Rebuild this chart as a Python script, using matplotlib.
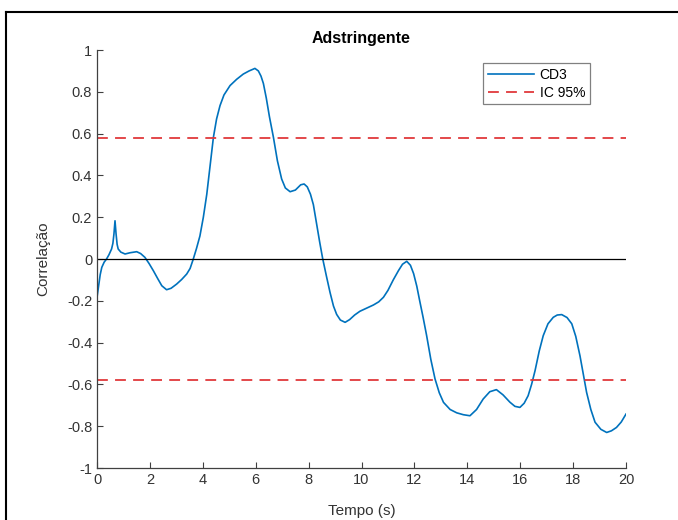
import numpy as np
import matplotlib.pyplot as plt
from matplotlib.lines import Line2D

plt.rcParams['font.family'] = ['Liberation Sans', 'DejaVu Sans']

# cross-correlation curve, CD3
tempo = [0.0, 0.06, 0.12, 0.18, 0.27, 0.36, 0.45, 0.55, 0.6, 0.64, 0.68, 0.72,
         0.76, 0.8, 0.9, 1.06, 1.25, 1.5, 1.65, 1.81, 1.97, 2.13, 2.3, 2.45,
         2.63, 2.8, 3.01, 3.2, 3.39, 3.52, 3.64, 3.76, 3.89, 4.02, 4.15, 4.28,
         4.4, 4.52, 4.65, 4.8, 5.03, 5.28, 5.53, 5.75, 5.97, 6.1, 6.2, 6.29,
         6.4, 6.52, 6.67, 6.82, 6.98, 7.12, 7.3, 7.5, 7.7, 7.83, 7.95, 8.07,
         8.18, 8.3, 8.42, 8.53, 8.67, 8.81, 8.94, 9.06, 9.2, 9.38, 9.55, 9.74,
         9.94, 10.2, 10.45, 10.65, 10.83, 11.0, 11.2, 11.4, 11.55, 11.71, 11.85,
         11.97, 12.09, 12.2, 12.33, 12.46, 12.62, 12.78, 12.94, 13.1, 13.35,
         13.6, 13.85, 14.1, 14.35, 14.6, 14.85, 15.1, 15.35, 15.61, 15.8, 15.99,
         16.15, 16.3, 16.43, 16.56, 16.72, 16.87, 17.05, 17.25, 17.4, 17.57,
         17.77, 17.95, 18.1, 18.26, 18.39, 18.51, 18.67, 18.83, 19.05, 19.27,
         19.45, 19.64, 19.82, 20.0]
cd3 = [-0.183, -0.13, -0.075, -0.04, -0.015, 0.0, 0.02, 0.048, 0.075, 0.12,
       0.183, 0.12, 0.07, 0.048, 0.033, 0.024, 0.03, 0.035, 0.026, 0.008,
       -0.022, -0.056, -0.095, -0.128, -0.147, -0.14, -0.12, -0.098, -0.072,
       -0.045, 0.0, 0.05, 0.11, 0.2, 0.31, 0.45, 0.582, 0.67, 0.734, 0.785,
       0.83, 0.86, 0.885, 0.9, 0.912, 0.9, 0.875, 0.84, 0.77, 0.68, 0.582,
       0.47, 0.383, 0.34, 0.322, 0.33, 0.355, 0.359, 0.345, 0.31, 0.26, 0.17,
       0.08, 0.003, -0.08, -0.16, -0.225, -0.265, -0.292, -0.303, -0.29,
       -0.268, -0.25, -0.235, -0.22, -0.205, -0.183, -0.15, -0.1, -0.055,
       -0.025, -0.011, -0.03, -0.07, -0.13, -0.2, -0.28, -0.365, -0.48, -0.574,
       -0.64, -0.686, -0.72, -0.736, -0.745, -0.75, -0.72, -0.67, -0.635,
       -0.625, -0.65, -0.685, -0.705, -0.71, -0.69, -0.654, -0.6, -0.535,
       -0.44, -0.367, -0.31, -0.279, -0.268, -0.266, -0.28, -0.31, -0.37,
       -0.463, -0.555, -0.638, -0.72, -0.781, -0.815, -0.83, -0.822, -0.806,
       -0.78, -0.742]

ic95 = 0.577
x_ticks = list(range(0, 21, 2))
y_ticks = [-1, -0.8, -0.6, -0.4, -0.2, 0, 0.2, 0.4, 0.6, 0.8, 1]
y_labels = ['-1', '-0.8', '-0.6', '-0.4', '-0.2', '0', '0.2', '0.4', '0.6', '0.8', '1']

fig = plt.figure(figsize=(6.78, 5.2), dpi=100)
ax = fig.add_axes([0.1431, 0.1, 0.7802, 0.8038])

ax.plot(tempo, cd3, color=(0, 0.447, 0.741), lw=1.2, label='CD3')
ax.plot([0, 20], [ic95, ic95], '--', color='#e0393b', lw=1.3, dashes=(6, 4), label='IC 95%')
ax.plot([0, 20], [-ic95, -ic95], '--', color='#e0393b', lw=1.3, dashes=(6, 4))
ax.plot([0, 20], [0, 0], color='black', lw=0.9)

ax.set_xlim(0, 20)
ax.set_ylim(-1, 1)
ax.set_xticks(x_ticks)
ax.set_yticks(y_ticks)
ax.set_yticklabels(y_labels)

grey = '#404040'
txt = '#333333'
for side in ['top', 'right']:
    ax.spines[side].set_visible(False)
for side in ['left', 'bottom']:
    ax.spines[side].set_color(grey)
    ax.spines[side].set_linewidth(0.9)
ax.tick_params(direction='in', length=4, width=0.8, color=grey,
               labelsize=10.5, labelcolor=txt)

ax.set_title('Adstringente', fontsize=11.5, fontweight='bold', pad=5)
ax.set_xlabel('Tempo (s)', fontsize=11, color=txt, labelpad=12)
ax.set_ylabel('Correlação', fontsize=11, color=txt, labelpad=12)

leg = ax.legend(loc='upper right', bbox_to_anchor=(0.945, 0.985), fontsize=10,
                handlelength=3.3, handletextpad=0.4, borderpad=0.35,
                labelspacing=0.25, fancybox=False, framealpha=1)
leg.get_frame().set_edgecolor('#808080')
leg.get_frame().set_linewidth(0.9)

# screenshot frame on the left and top
fig.add_artist(Line2D([6 / 678, 6 / 678], [0, 1 - 12 / 520], color='black', lw=1.5))
fig.add_artist(Line2D([6 / 678, 1], [1 - 12 / 520, 1 - 12 / 520], color='black', lw=1.5))

fig.savefig('out.png', dpi=100)
